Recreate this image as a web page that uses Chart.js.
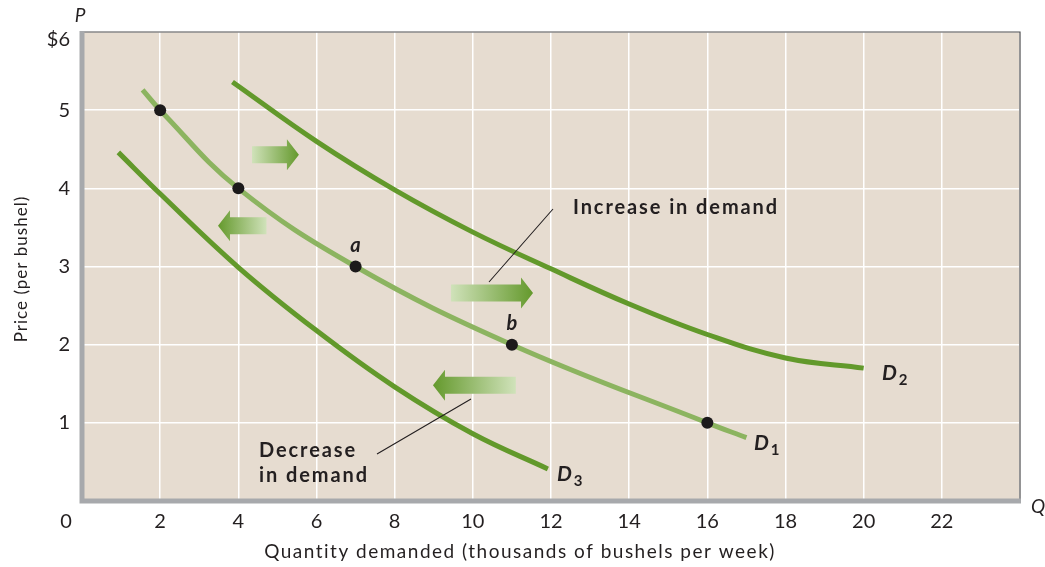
<!DOCTYPE html>
<html>
<head>
<meta charset="utf-8">
<script src="https://cdn.jsdelivr.net/npm/chart.js@4/dist/chart.umd.min.js"></script>
<style>
  html, body { margin: 0; padding: 0; background: #fff; }
  #wrap { width: 1045px; height: 567px; }
</style>
</head>
<body>
<div id="wrap"><canvas id="chart" width="1045" height="567"></canvas></div>
<script>
// curve readings (quantity in thousands of bushels, price in $)
const d1Q = [1.55, 2, 4, 7, 11, 16, 17];
const d1P = [5.26, 5, 4, 3, 2, 1, 0.81];
const d2Q = [3.85, 6, 8, 10, 12, 14, 16, 18, 20];
const d2P = [5.36, 4.6, 3.98, 3.44, 2.97, 2.52, 2.13, 1.83, 1.70];
const d3Q = [0.93, 2, 4, 6, 8, 10, 11.92];
const d3P = [4.46, 3.93, 2.99, 2.18, 1.46, 0.86, 0.41];
const dotQ = [2, 4, 7, 11, 16];
const dotP = [5, 4, 3, 2, 1];
const xTicks = [0, 2, 4, 6, 8, 10, 12, 14, 16, 18, 20, 22];
const yTicks = [1, 2, 3, 4, 5, 6];
const yTickLabels = ['1', '2', '3', '4', '5', '$6'];

const pts = (xs, ys) => xs.map((x, i) => ({ x: x, y: ys[i] }));

const FONT = 'Lato, "Open Sans", sans-serif';
const INK = '#231f20';
const lightGreen = '#8cb460';
const darkGreen = '#62992b';

function arrow(ctx, x0, x1, yc, dir) {
    // block arrow from x0 to x1, head at x1
    const bodyH = 17, headH = 31, headL = 12;
    const grad = ctx.createLinearGradient(x0, 0, x1, 0);
    grad.addColorStop(0, '#d0e2ba');
    grad.addColorStop(1, '#64992c');
    ctx.fillStyle = grad;
    ctx.beginPath();
    const hb = x1 - dir * headL;
    ctx.moveTo(x0, yc - bodyH / 2);
    ctx.lineTo(hb, yc - bodyH / 2);
    ctx.lineTo(hb, yc - headH / 2);
    ctx.lineTo(x1, yc);
    ctx.lineTo(hb, yc + headH / 2);
    ctx.lineTo(hb, yc + bodyH / 2);
    ctx.lineTo(x0, yc + bodyH / 2);
    ctx.closePath();
    ctx.fill();
}

function dLabel(ctx, x, y, sub) {
    ctx.fillStyle = INK;
    ctx.font = 'italic bold 21px ' + FONT;
    ctx.textAlign = 'left';
    ctx.textBaseline = 'alphabetic';
    ctx.fillText('D', x, y);
    const w = ctx.measureText('D').width;
    ctx.font = 'bold 15px ' + FONT;
    ctx.fillText(sub, x + w + 2, y + 5);
}

const decor = {
    id: 'decor',
    beforeDraw(chart) {
        const { ctx, chartArea: a } = chart;
        ctx.save();
        ctx.fillStyle = '#e6dcd0';
        ctx.fillRect(a.left, a.top, a.right - a.left, a.bottom - a.top);
        ctx.restore();
    },
    afterDatasetsDraw(chart) {
        const { ctx, chartArea: a, scales } = chart;
        const xs = scales.x, ys = scales.y;
        ctx.save();
        // frame
        ctx.strokeStyle = '#4d4d4f';
        ctx.lineWidth = 1.2;
        ctx.beginPath();
        ctx.moveTo(a.left, a.top);
        ctx.lineTo(a.right, a.top);
        ctx.lineTo(a.right, a.bottom);
        ctx.stroke();
        ctx.strokeStyle = '#a7a9ac';
        ctx.lineWidth = 5;
        ctx.beginPath();
        ctx.moveTo(a.left, a.top - 1);
        ctx.lineTo(a.left, a.bottom);
        ctx.lineTo(a.right + 1, a.bottom);
        ctx.stroke();

        // arrows
        arrow(ctx, xs.getPixelForValue(4.35), xs.getPixelForValue(5.55), ys.getPixelForValue(4.43), 1);
        arrow(ctx, xs.getPixelForValue(4.72), xs.getPixelForValue(3.48), ys.getPixelForValue(3.52), -1);
        arrow(ctx, xs.getPixelForValue(9.44), xs.getPixelForValue(11.54), ys.getPixelForValue(2.66), 1);
        arrow(ctx, xs.getPixelForValue(11.1), xs.getPixelForValue(8.98), ys.getPixelForValue(1.48), -1);

        // tick labels
        ctx.fillStyle = INK;
        ctx.font = '20px ' + FONT;
        ctx.textBaseline = 'middle';
        ctx.textAlign = 'center';
        xTicks.forEach(v => {
            const px = xs.getPixelForValue(v) - (v === 0 ? 16 : 0);
            ctx.fillText(String(v), px, a.bottom + 21);
        });
        ctx.textAlign = 'right';
        yTicks.forEach((v, i) => {
            const py = ys.getPixelForValue(v) + (v === 6 ? 8 : 0);
            ctx.fillText(yTickLabels[i], a.left - 12, py);
        });

        // axis titles
        ctx.font = '19px ' + FONT;
        ctx.letterSpacing = '1.5px';
        ctx.textAlign = 'center';
        ctx.fillText('Quantity demanded (thousands of bushels per week)', 520, 552);
        ctx.save();
        ctx.translate(22, 269);
        ctx.rotate(-Math.PI / 2);
        ctx.font = '17px ' + FONT;
        ctx.letterSpacing = '1px';
        ctx.fillText('Price (per bushel)', 0, 0);
        ctx.restore();
        ctx.letterSpacing = '0px';
        ctx.font = 'italic 19px ' + FONT;
        ctx.fillText('P', a.left - 2, 16);
        ctx.fillText('Q', a.right + 18, 507);

        // leader lines
        ctx.strokeStyle = INK;
        ctx.lineWidth = 1.1;
        ctx.beginPath();
        ctx.moveTo(553, 209);
        ctx.lineTo(489, 282);
        ctx.moveTo(471, 399);
        ctx.lineTo(377, 454);
        ctx.stroke();

        // annotation text
        ctx.font = 'bold 20px ' + FONT;
        ctx.letterSpacing = '1.9px';
        ctx.textAlign = 'left';
        ctx.textBaseline = 'alphabetic';
        ctx.fillText('Increase in demand', 573, 214);
        ctx.fillText('Decrease', 259, 457);
        ctx.fillText('in demand', 259, 482);
        ctx.letterSpacing = '0px';

        // point labels
        ctx.font = 'italic bold 20px ' + FONT;
        ctx.textAlign = 'center';
        ctx.fillText('a', xs.getPixelForValue(7), ys.getPixelForValue(3) - 15);
        ctx.fillText('b', xs.getPixelForValue(11), ys.getPixelForValue(2) - 15);

        dLabel(ctx, 754, 450, '1');
        dLabel(ctx, 882, 380, '2');
        dLabel(ctx, 557, 481, '3');
        ctx.restore();
    }
};

const curve = (label, q, p, color) => ({
    label: label,
    data: pts(q, p),
    showLine: true,
    borderColor: color,
    borderWidth: 5,
    pointRadius: 0,
    tension: 0.4,
    order: 3
});

new Chart(document.getElementById('chart'), {
    type: 'scatter',
    data: {
        datasets: [
            curve('D1', d1Q, d1P, lightGreen),
            curve('D2', d2Q, d2P, darkGreen),
            curve('D3', d3Q, d3P, darkGreen),
            {
                label: 'points',
                data: pts(dotQ, dotP),
                showLine: false,
                pointRadius: 6,
                pointBackgroundColor: '#1c1a1b',
                pointBorderWidth: 0,
                order: 1
            }
        ]
    },
    options: {
        responsive: false,
        animation: false,
        devicePixelRatio: 1,
        layout: { padding: { left: 82, right: 25, top: 32, bottom: 66 } },
        plugins: {
            legend: { display: false },
            tooltip: { enabled: false }
        },
        scales: {
            x: {
                type: 'linear',
                min: 0,
                max: 24,
                border: { display: false },
                grid: { color: '#ffffff', lineWidth: 1.5, drawTicks: false },
                ticks: { display: false, stepSize: 2 }
            },
            y: {
                type: 'linear',
                min: 0,
                max: 6,
                border: { display: false },
                grid: { color: '#ffffff', lineWidth: 1.5, drawTicks: false },
                ticks: { display: false, stepSize: 1 }
            }
        }
    },
    plugins: [decor]
});
</script>
</body>
</html>
